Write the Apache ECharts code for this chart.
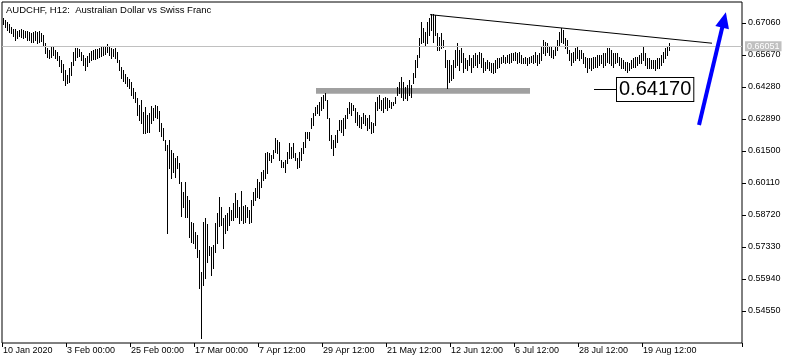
<!DOCTYPE html>
<html>
<head>
<meta charset="utf-8">
<script src="https://cdn.jsdelivr.net/npm/echarts@6/dist/echarts.min.js"></script>
<style>
html,body{margin:0;padding:0;background:#fff;}
#chart{width:795px;height:364px;}
</style>
</head>
<body>
<div id="chart"></div>
<script>
// H12 bars, 10 Jan 2020 .. late Aug 2020 (high / low)
const highs = [
0.6728,0.6719,0.6710,0.6702,0.6689,0.6680,0.6680,0.6671,0.6676,0.6680,
0.6676,0.6671,0.6671,0.6667,0.6663,0.6667,0.6671,0.6667,0.6671,0.6663,
0.6654,0.6619,0.6597,0.6589,0.6602,0.6606,0.6589,0.6580,0.6563,0.6545,
0.6528,0.6502,0.6480,0.6511,0.6537,0.6580,0.6597,0.6597,0.6593,0.6580,
0.6567,0.6554,0.6563,0.6576,0.6584,0.6589,0.6593,0.6593,0.6597,0.6602,
0.6606,0.6606,0.6615,0.6606,0.6597,0.6593,0.6597,0.6580,0.6545,0.6515,
0.6502,0.6484,0.6471,0.6463,0.6450,0.6424,0.6406,0.6380,0.6350,0.6371,
0.6320,0.6341,0.6306,0.6315,0.6346,0.6337,0.6350,0.6346,0.6324,0.6272,
0.6250,0.6198,0.6176,0.6198,0.6154,0.6141,0.6120,0.6128,0.6098,0.6015,
0.5972,0.6015,0.5955,0.5937,0.5842,0.5837,0.5798,0.5785,0.5720,0.5624,
0.5842,0.5859,0.5833,0.5737,0.5733,0.5742,0.5837,0.5881,0.5950,0.5907,
0.5859,0.5872,0.5881,0.5907,0.5894,0.5924,0.5968,0.5937,0.5907,0.5976,
0.5911,0.5915,0.5907,0.5894,0.5937,0.5972,0.5989,0.6028,0.6015,0.6059,
0.6067,0.6141,0.6146,0.6141,0.6133,0.6154,0.6206,0.6198,0.6189,0.6111,
0.6102,0.6111,0.6146,0.6185,0.6167,0.6185,0.6141,0.6120,0.6146,0.6163,
0.6189,0.6232,0.6232,0.6232,0.6293,0.6315,0.6341,0.6350,0.6363,0.6385,
0.6393,0.6402,0.6371,0.6293,0.6220,0.6198,0.6220,0.6241,0.6285,0.6285,
0.6293,0.6306,0.6337,0.6363,0.6359,0.6350,0.6337,0.6320,0.6306,0.6298,
0.6315,0.6306,0.6293,0.6306,0.6276,0.6272,0.6363,0.6385,0.6393,0.6371,
0.6380,0.6385,0.6380,0.6371,0.6363,0.6363,0.6385,0.6428,0.6450,0.6471,
0.6450,0.6428,0.6437,0.6458,0.6437,0.6489,0.6545,0.6567,0.6641,0.6710,
0.6684,0.6667,0.6710,0.6728,0.6745,0.6745,0.6741,0.6663,0.6645,0.6663,
0.6632,0.6589,0.6545,0.6545,0.6524,0.6545,0.6589,0.6619,0.6589,0.6597,
0.6576,0.6554,0.6545,0.6567,0.6554,0.6567,0.6576,0.6567,0.6580,0.6576,
0.6554,0.6537,0.6545,0.6537,0.6532,0.6532,0.6545,0.6554,0.6554,0.6558,
0.6567,0.6558,0.6567,0.6571,0.6576,0.6576,0.6580,0.6576,0.6580,0.6567,
0.6554,0.6558,0.6554,0.6558,0.6563,0.6567,0.6580,0.6567,0.6576,0.6602,
0.6632,0.6623,0.6619,0.6602,0.6602,0.6589,0.6602,0.6632,0.6667,0.6684,
0.6676,0.6641,0.6632,0.6589,0.6576,0.6580,0.6597,0.6602,0.6589,0.6589,
0.6576,0.6558,0.6554,0.6554,0.6554,0.6558,0.6558,0.6567,0.6567,0.6567,
0.6576,0.6576,0.6597,0.6597,0.6589,0.6576,0.6576,0.6576,0.6558,0.6554,
0.6545,0.6537,0.6537,0.6532,0.6545,0.6554,0.6558,0.6558,0.6567,0.6576,
0.6602,0.6576,0.6554,0.6554,0.6545,0.6545,0.6545,0.6554,0.6554,0.6567,
0.6580,0.6597,0.6606,0.6619
];
const lows = [
0.6702,0.6689,0.6676,0.6667,0.6663,0.6650,0.6632,0.6641,0.6650,0.6645,
0.6641,0.6645,0.6632,0.6632,0.6623,0.6623,0.6632,0.6619,0.6623,0.6628,
0.6610,0.6576,0.6558,0.6554,0.6558,0.6567,0.6554,0.6545,0.6519,0.6493,
0.6458,0.6437,0.6445,0.6450,0.6480,0.6524,0.6545,0.6558,0.6563,0.6545,
0.6524,0.6502,0.6519,0.6537,0.6545,0.6550,0.6550,0.6554,0.6558,0.6563,
0.6567,0.6571,0.6580,0.6567,0.6554,0.6563,0.6554,0.6537,0.6502,0.6467,
0.6454,0.6445,0.6432,0.6424,0.6393,0.6380,0.6363,0.6306,0.6285,0.6272,
0.6228,0.6228,0.6232,0.6232,0.6272,0.6285,0.6298,0.6293,0.6237,0.6215,
0.6198,0.6154,0.5794,0.6076,0.6033,0.6059,0.6037,0.6076,0.6011,0.5868,
0.5907,0.5863,0.5863,0.5777,0.5755,0.5750,0.5729,0.5690,0.5555,0.5338,
0.5568,0.5598,0.5668,0.5698,0.5611,0.5642,0.5711,0.5750,0.5824,0.5829,
0.5729,0.5794,0.5807,0.5829,0.5850,0.5850,0.5863,0.5863,0.5837,0.5850,
0.5837,0.5842,0.5863,0.5837,0.5842,0.5915,0.5937,0.5950,0.5946,0.5994,
0.6024,0.6033,0.6054,0.6111,0.6102,0.6120,0.6146,0.6141,0.6111,0.6080,
0.6080,0.6059,0.6098,0.6120,0.6120,0.6124,0.6111,0.6076,0.6080,0.6111,
0.6141,0.6167,0.6206,0.6198,0.6250,0.6263,0.6306,0.6315,0.6306,0.6328,
0.6337,0.6371,0.6293,0.6198,0.6163,0.6133,0.6167,0.6189,0.6241,0.6232,
0.6220,0.6250,0.6293,0.6315,0.6306,0.6328,0.6276,0.6263,0.6254,0.6250,
0.6272,0.6263,0.6241,0.6250,0.6228,0.6232,0.6263,0.6328,0.6337,0.6328,
0.6320,0.6337,0.6328,0.6341,0.6337,0.6350,0.6359,0.6393,0.6402,0.6385,
0.6371,0.6380,0.6371,0.6393,0.6385,0.6445,0.6471,0.6515,0.6558,0.6619,
0.6623,0.6610,0.6619,0.6654,0.6676,0.6623,0.6654,0.6589,0.6589,0.6597,
0.6602,0.6515,0.6424,0.6450,0.6458,0.6467,0.6515,0.6524,0.6502,0.6537,
0.6493,0.6511,0.6502,0.6524,0.6493,0.6515,0.6524,0.6515,0.6532,0.6515,
0.6493,0.6502,0.6511,0.6502,0.6493,0.6489,0.6493,0.6511,0.6515,0.6532,
0.6537,0.6532,0.6537,0.6532,0.6537,0.6545,0.6545,0.6532,0.6537,0.6532,
0.6532,0.6532,0.6524,0.6532,0.6537,0.6532,0.6537,0.6524,0.6532,0.6545,
0.6576,0.6567,0.6580,0.6567,0.6558,0.6554,0.6567,0.6589,0.6610,0.6623,
0.6619,0.6597,0.6576,0.6545,0.6524,0.6537,0.6545,0.6554,0.6545,0.6554,
0.6532,0.6515,0.6493,0.6511,0.6502,0.6511,0.6515,0.6515,0.6524,0.6532,
0.6515,0.6524,0.6537,0.6532,0.6524,0.6515,0.6532,0.6537,0.6524,0.6511,
0.6511,0.6502,0.6493,0.6502,0.6511,0.6515,0.6515,0.6524,0.6532,0.6532,
0.6545,0.6524,0.6511,0.6511,0.6511,0.6511,0.6502,0.6511,0.6511,0.6524,
0.6537,0.6554,0.6567,0.6589
];
const xLabels = ['10 Jan 2020','3 Feb 00:00','25 Feb 00:00','17 Mar 00:00','7 Apr 12:00',
  '29 Apr 12:00','21 May 12:00','12 Jun 12:00','6 Jul 12:00','28 Jul 12:00','19 Aug 12:00'];
const barsPerLabel = 32;
const slotCount = 370;            // bar slots across the chart (incl. right shift space)
const yMin = 0.5316, yMax = 0.6797, yStep = 0.0139;
const bidPrice = 0.66051;
const levelBox = [[156.5, 0.6424], [263.5, 0.6398]];   // grey support zone
const trendLine = [[213.5, 0.6742], [354.5, 0.6618]];
const priceTag = {from: 295.5, to: 307, price: 0.6417};
const arrowLine = [[348, 0.6263], [360.5, 0.6719]];
const titleText = 'AUDCHF, H12:  Australian Dollar vs Swiss Franc';

const FONT = '"Liberation Sans", Arial, sans-serif';
const categories = Array.from({length: slotCount}, (_, i) =>
  (i % barsPerLabel === 0 && xLabels[i / barsPerLabel]) ? xLabels[i / barsPerLabel] : '');
const barData = highs.map((h, i) => [i, h, lows[i]]);
const showIdx = (idx, val) => val !== '';

const chart = echarts.init(document.getElementById('chart'), null, {renderer: 'canvas'});
chart.setOption({
  animation: false,
  backgroundColor: '#ffffff',
  textStyle: {fontFamily: FONT},
  graphic: [{
    type: 'text', left: 6, top: 5,
    style: {text: titleText, fill: '#000', font: '9.5px ' + FONT}
  }],
  grid: {left: 2, top: 2, right: 53, bottom: 21, show: true, borderColor: '#000', borderWidth: 1, backgroundColor: 'transparent'},
  xAxis: [{
    type: 'category', data: categories, position: 'bottom',
    axisLine: {show: false, onZero: false},
    axisTick: {show: true, length: 4, interval: showIdx, lineStyle: {color: '#000'}},
    axisLabel: {interval: showIdx, align: 'left', margin: 3, fontSize: 9, color: '#000', fontFamily: FONT},
    splitLine: {show: false}
  }, {
    type: 'value', min: -0.5, max: slotCount - 0.5, show: false,
    axisLine: {onZero: false}
  }],
  yAxis: [{
    type: 'value', position: 'right', min: yMin, max: yMax, interval: yStep,
    axisLine: {show: false, onZero: false},
    axisTick: {show: true, length: 4, lineStyle: {color: '#000'}},
    axisLabel: {showMinLabel: false, showMaxLabel: false, margin: 6, fontSize: 9, color: '#000', fontFamily: FONT,
      formatter: v => v.toFixed(5)},
    splitLine: {show: false}
  }],
  series: [{
    type: 'custom',
    xAxisIndex: 1, yAxisIndex: 0,
    data: barData,
    encode: {x: 0, y: [1, 2]},
    renderItem: (params, api) => {
      const i = api.value(0);
      const top = api.coord([i, api.value(1)]);
      const bot = api.coord([i, api.value(2)]);
      const px = Math.round(top[0]) + 0.5;
      return {type: 'line', shape: {x1: px, y1: Math.round(top[1]), x2: px, y2: Math.round(bot[1]) + 1},
        style: {stroke: '#000', lineWidth: 1}};
    },
    markArea: {
      silent: true,
      label: {show: false},
      itemStyle: {color: '#a0a0a0', opacity: 1},
      data: [[{coord: levelBox[0]}, {coord: levelBox[1]}]]
    },
    markLine: {
      silent: true, symbol: 'none', animation: false,
      label: {show: false},
      data: [
        [{yAxis: bidPrice, x: 2, lineStyle: {color: '#c0c0c0', width: 1, type: 'solid'},
          label: {show: true, position: 'end', distance: 3, formatter: bidPrice.toFixed(5), color: '#fff',
            backgroundColor: '#c0c0c0', padding: [1, 2, 0, 2], fontSize: 9, fontFamily: FONT}},
         {yAxis: bidPrice, x: 742}],
        [{coord: trendLine[0], lineStyle: {color: '#000', width: 1, type: 'solid'}}, {coord: trendLine[1]}],
        [{coord: [priceTag.from, priceTag.price], lineStyle: {color: '#000', width: 1, type: 'solid'},
          label: {show: true, position: 'end', distance: 0, formatter: priceTag.price.toFixed(5), color: '#000',
            backgroundColor: '#fff', borderColor: '#000', borderWidth: 1, padding: [2, 2, 1, 2], fontSize: 20, fontFamily: FONT}},
         {coord: [priceTag.to, priceTag.price]}],
        [{coord: arrowLine[0], symbol: 'none', lineStyle: {color: '#0000ff', width: 4, type: 'solid'}},
         {coord: arrowLine[1], symbol: 'triangle', symbolSize: [14, 16]}]
      ]
    }
  }]
});
</script>
</body>
</html>
